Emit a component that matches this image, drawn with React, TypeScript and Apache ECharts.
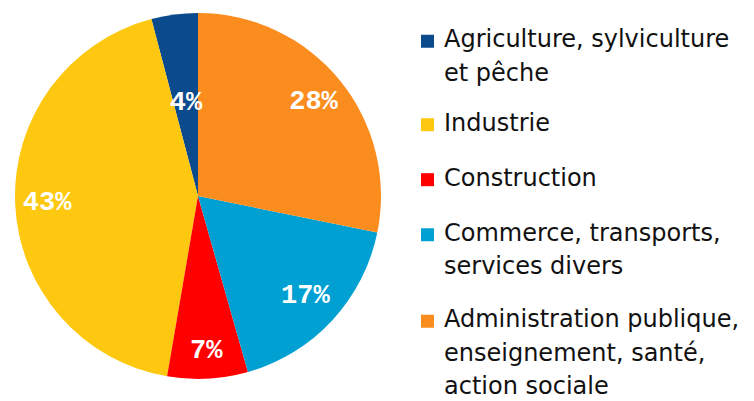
import React, { useEffect, useRef } from "react";
import * as echarts from "echarts";

const categories = [
  "Agriculture, sylviculture et pêche",
  "Industrie",
  "Construction",
  "Commerce, transports, services divers",
  "Administration publique, enseignement, santé, action sociale",
];
const legendLabels = [
  "Agriculture, sylviculture\net pêche",
  "Industrie",
  "Construction",
  "Commerce, transports,\nservices divers",
  "Administration publique,\nenseignement, santé,\naction sociale",
];
const shares = [4.1, 43.2, 7.1, 17.4, 28.2];
const colors = ["#0B4A8C", "#FDC80F", "#FF0000", "#00A0D3", "#FB8C1E"];

// style / layout constants
const CX = 198;
const CY = 196;
const R = 183;
const labelRadiusFactor = [0.51, 0.825, 0.85, 0.8, 0.815];
const LINE_H = 33.4;
const legendTops = [22.5, 106, 161, 216, 302.5];

export default function App() {
  const ref = useRef<HTMLDivElement>(null);

  useEffect(() => {
    if (!ref.current) return;
    const chart = echarts.init(ref.current, undefined, { renderer: "svg" });
    const total = shares.reduce((a, b) => a + b, 0);
    const cumBefore = shares.map((_, i) =>
      shares.slice(0, i).reduce((a, b) => a + b, 0)
    );

    const legends = categories.map((name, i) => {
      const nLines = legendLabels[i].split("\n").length;
      const H = nLines * LINE_H;
      const sqTop = LINE_H / 2 + 2 - 6.5;
      return {
        left: 421,
        top: legendTops[i],
        orient: "vertical",
        padding: 0,
        itemWidth: 18,
        itemHeight: H,
        selectedMode: false,
        data: [
          {
            name,
            icon: `path://M0,0M0,${sqTop}h13v13h-13zM18,${H}`,
          },
        ],
        formatter: () => legendLabels[i],
        itemStyle: { borderWidth: 0 },
        textStyle: {
          fontFamily: "DejaVu Sans",
          fontSize: 24,
          lineHeight: LINE_H,
          color: "#111",
        },
      };
    });

    chart.setOption({
      animation: false,
      backgroundColor: "#fff",
      legend: legends,
      series: [
        {
          type: "pie",
          center: [CX, CY],
          radius: R,
          startAngle: 90,
          clockwise: false,
          avoidLabelOverlap: false,
          itemStyle: { borderWidth: 0 },
          label: {
            show: true,
            position: "inside",
            formatter: (p: any) => `${Math.round(p.value)}%`,
            color: "#fff",
            fontFamily: "'Liberation Mono', 'DejaVu Sans Mono', monospace",
            fontWeight: "bold",
            fontSize: 27,
          },
          labelLine: { show: false },
          labelLayout: (params: any) => {
            const i = params.dataIndex;
            const mid =
              ((90 + ((cumBefore[i] + shares[i] / 2) / total) * 360) * Math.PI) /
              180;
            const f = labelRadiusFactor[i] * R;
            return {
              x: CX + f * Math.cos(mid),
              y: CY - f * Math.sin(mid),
              align: "center",
              verticalAlign: "middle",
            };
          },
          data: categories.map((name, i) => ({
            name,
            value: shares[i],
            itemStyle: { color: colors[i] },
          })),
        },
      ],
    });
    return () => chart.dispose();
  }, []);

  return (
    <div
      ref={ref}
      style={{ position: "absolute", left: 0, top: 0, width: 754, height: 401 }}
    />
  );
}
